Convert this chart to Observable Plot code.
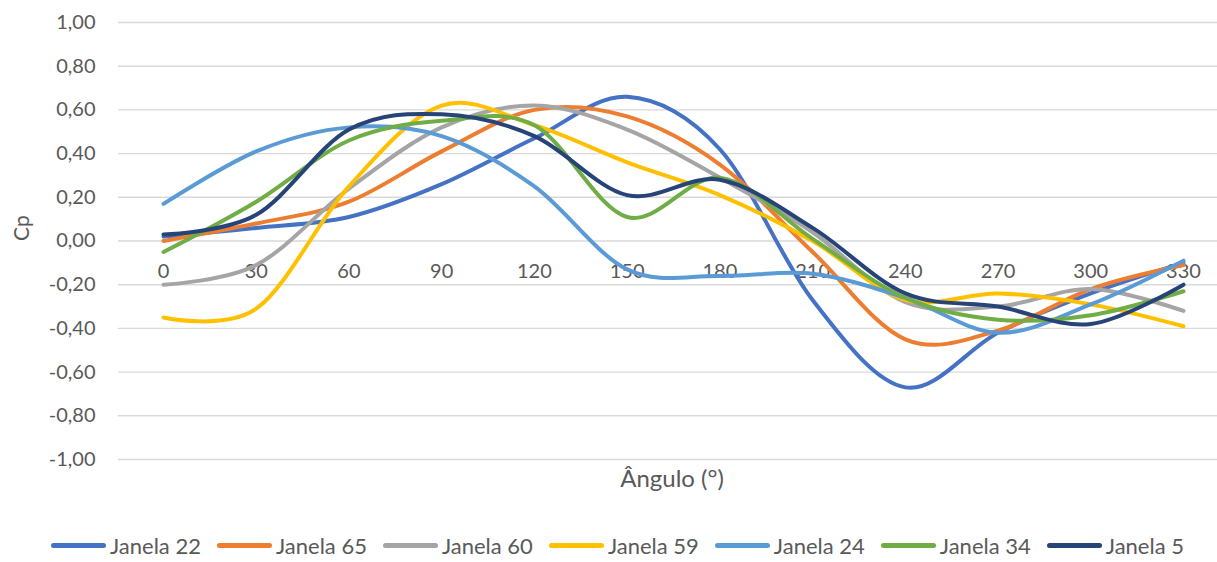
<!DOCTYPE html>
<html>
<head>
<meta charset="utf-8">
<script src="https://cdn.jsdelivr.net/npm/d3@7"></script>
<script src="https://cdn.jsdelivr.net/npm/@observablehq/plot@0.6"></script>
<style>
  html, body { margin: 0; padding: 0; background: #fff; }
  body { width: 1217px; height: 562px; overflow: hidden; font-family: Lato, "Open Sans", sans-serif; }
  #legend { display: flex; justify-content: center; align-items: center; height: 34px; font-size: 22px; color: #595959; padding-left: 18px; box-sizing: border-box; width: 1217px; }
  .item { display: flex; align-items: center; margin: 0 8px; }
  .sw { width: 55px; height: 5px; border-radius: 3px; margin-right: 4px; }
</style>
</head>
<body>
<div id="chart"></div>
<div id="legend"></div>
<script>
const angles = [0, 30, 60, 90, 120, 150, 180, 210, 240, 270, 300, 330];
const seriesNames = ["Janela 22", "Janela 65", "Janela 60", "Janela 59", "Janela 24", "Janela 34", "Janela 5"];
const seriesColors = ["#4472C4", "#ED7D31", "#A5A5A5", "#FFC000", "#5B9BD5", "#70AD47", "#264478"];

const janela22 = [0.02, 0.06, 0.11, 0.26, 0.47, 0.66, 0.42, -0.27, -0.67, -0.42, -0.24, -0.10];
const janela65 = [0.00, 0.08, 0.18, 0.41, 0.60, 0.57, 0.35, -0.05, -0.45, -0.41, -0.22, -0.11];
const janela60 = [-0.20, -0.11, 0.24, 0.52, 0.62, 0.51, 0.29, 0.04, -0.28, -0.30, -0.22, -0.32];
const janela59 = [-0.35, -0.31, 0.25, 0.62, 0.53, 0.36, 0.21, 0.00, -0.27, -0.24, -0.29, -0.39];
const janela24 = [0.17, 0.41, 0.52, 0.48, 0.25, -0.13, -0.16, -0.15, -0.26, -0.42, -0.29, -0.09];
const janela34 = [-0.05, 0.18, 0.46, 0.55, 0.53, 0.11, 0.29, 0.01, -0.26, -0.36, -0.34, -0.23];
const janela5  = [0.03, 0.12, 0.51, 0.58, 0.48, 0.21, 0.28, 0.06, -0.24, -0.30, -0.38, -0.20];

const yTicks = [-1, -0.8, -0.6, -0.4, -0.2, 0, 0.2, 0.4, 0.6, 0.8, 1];
const xTickLabels = angles;

const seriesValues = [janela22, janela65, janela60, janela59, janela24, janela34, janela5];
const data = [];
seriesNames.forEach((name, i) => {
  angles.forEach((a, j) => data.push({series: name, angle: a, cp: seriesValues[i][j]}));
});

const fmt = d => d.toFixed(2).replace(".", ",");
const font = "Lato, 'Open Sans', sans-serif";

const chart = Plot.plot({
  width: 1217,
  height: 528,
  marginLeft: 118,
  marginRight: 0,
  marginTop: 22,
  marginBottom: 69,
  style: {fontFamily: font, background: "#fff"},
  x: {type: "linear", domain: [0, 330], range: [163, 1183], axis: null},
  y: {domain: [-1, 1], axis: null},
  color: {domain: seriesNames, range: seriesColors},
  marks: [
    Plot.ruleY(yTicks, {stroke: "#d9d9d9", strokeWidth: 1.4}),
    Plot.axisY(yTicks, {tickSize: 0, tickPadding: 23, tickFormat: fmt, fontSize: 20, color: "#595959", label: null}),
    Plot.text(xTickLabels, {x: d => d, y: d => 0, dy: 31, text: d => String(d), fontSize: 20, fill: "#595959"}),
    Plot.text(["Cp"], {frameAnchor: "left", dx: -96, rotate: -90, fontSize: 21, fill: "#595959"}),
    Plot.text(["Ângulo (°)"], {frameAnchor: "bottom", dx: 4, dy: 27, fontSize: 24, fill: "#595959"}),
    Plot.line(data, {x: "angle", y: "cp", z: "series", stroke: "series", strokeWidth: 4, curve: "cardinal", strokeLinecap: "round", strokeLinejoin: "round"})
  ]
});
document.getElementById("chart").appendChild(chart);

const legend = document.getElementById("legend");
seriesNames.forEach((name, i) => {
  const item = document.createElement("div");
  item.className = "item";
  const sw = document.createElement("div");
  sw.className = "sw";
  sw.style.background = seriesColors[i];
  const t = document.createElement("span");
  t.textContent = name;
  item.appendChild(sw);
  item.appendChild(t);
  legend.appendChild(item);
});
</script>
</body>
</html>
